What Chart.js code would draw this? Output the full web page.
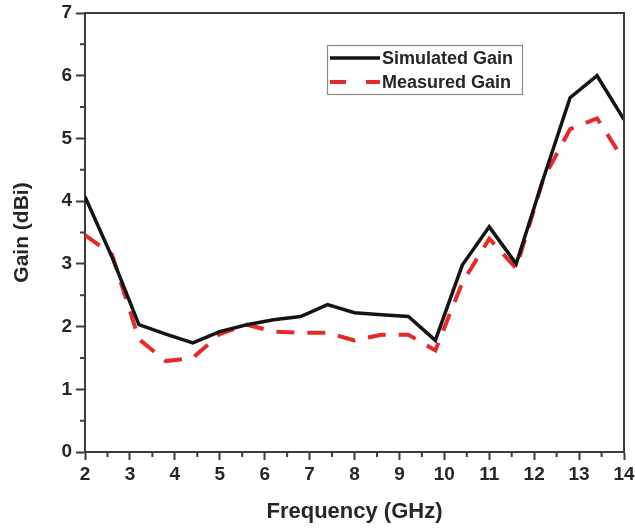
<!DOCTYPE html>
<html>
<head>
<meta charset="utf-8">
<script src="https://cdn.jsdelivr.net/npm/chart.js@4.4.1/dist/chart.umd.min.js"></script>
<style>
  html, body { margin: 0; padding: 0; background: #ffffff; }
  #wrap { width: 635px; height: 531px; }
</style>
</head>
<body>
<div id="wrap"><canvas id="c" width="635" height="531"></canvas></div>
<script>
// ---- data ----
const frequency = [2.0, 2.6, 3.2, 3.8, 4.4, 5.0, 5.6, 6.2, 6.8, 7.4, 8.0, 8.6, 9.2, 9.8, 10.4, 11.0, 11.6, 12.2, 12.8, 13.4, 14.0];
const simulatedGain = [4.07, 3.11, 2.03, 1.88, 1.74, 1.92, 2.03, 2.11, 2.16, 2.35, 2.22, 2.19, 2.16, 1.78, 2.98, 3.59, 3.00, 4.35, 5.65, 6.00, 5.30];
const measuredGain  = [3.46, 3.15, 1.80, 1.45, 1.50, 1.88, 2.03, 1.92, 1.90, 1.90, 1.78, 1.87, 1.87, 1.62, 2.70, 3.40, 2.93, 4.35, 5.15, 5.32, 4.65];
const seriesLabels = ["Simulated Gain", "Measured Gain"];
const xTickValues = [2, 3, 4, 5, 6, 7, 8, 9, 10, 11, 12, 13, 14];
const yTickValues = [0, 1, 2, 3, 4, 5, 6, 7];
const xTitle = "Frequency (GHz)";
const yTitle = "Gain (dBi)";

const AXIS = '#3c3c3c';
const TEXT = '#262626';
const FONT = "'Liberation Sans', Arial, sans-serif";

const toPts = (xs, ys) => xs.map((x, i) => ({ x: x, y: ys[i] }));

const framePlugin = {
  id: 'frame',
  afterDraw(chart) {
    const { ctx, chartArea: { left, right, top, bottom }, scales: { x, y } } = chart;
    ctx.save();
    ctx.strokeStyle = AXIS;
    ctx.lineWidth = 2;
    // top and right frame
    ctx.beginPath();
    ctx.moveTo(left, top); ctx.lineTo(right, top); ctx.lineTo(right, bottom);
    ctx.stroke();
    // minor ticks
    ctx.beginPath();
    for (let v = x.min + 0.5; v < x.max; v += 1) {
      const px = x.getPixelForValue(v);
      ctx.moveTo(px, bottom); ctx.lineTo(px, bottom + 5);
    }
    for (let v = y.min + 0.5; v < y.max; v += 1) {
      const py = y.getPixelForValue(v);
      ctx.moveTo(left, py); ctx.lineTo(left - 5, py);
    }
    ctx.stroke();

    // legend
    const lx = 327, ly = 45, lw = 195, lh = 49;
    ctx.fillStyle = '#ffffff';
    ctx.fillRect(lx, ly, lw, lh);
    ctx.strokeStyle = '#8a8a8a';
    ctx.lineWidth = 1.2;
    ctx.strokeRect(lx + 0.5, ly + 0.5, lw, lh);
    const ds = chart.data.datasets;
    const rows = [ly + 13, ly + 37];
    ds.forEach((d, i) => {
      ctx.save();
      ctx.strokeStyle = d.borderColor;
      ctx.lineWidth = d.borderWidth;
      ctx.setLineDash(i === 0 ? [] : [16, 20]);
      ctx.beginPath();
      ctx.moveTo(lx + 3, rows[i]); ctx.lineTo(lx + 53, rows[i]);
      ctx.stroke();
      ctx.restore();
      ctx.fillStyle = TEXT;
      ctx.font = "bold 18px " + FONT;
      ctx.textBaseline = 'middle';
      ctx.textAlign = 'left';
      ctx.fillText(d.label, lx + 55, rows[i] + 1);
    });
    ctx.restore();
  }
};

new Chart(document.getElementById('c'), {
  type: 'line',
  data: {
    datasets: [
      {
        label: seriesLabels[0],
        data: toPts(frequency, simulatedGain),
        borderColor: '#141414',
        borderWidth: 3.5,
        pointRadius: 0,
        tension: 0,
        fill: false
      },
      {
        label: seriesLabels[1],
        data: toPts(frequency, measuredGain),
        borderColor: '#e52a2a',
        borderWidth: 4,
        borderDash: [18, 13],
        pointRadius: 0,
        tension: 0,
        fill: false
      }
    ]
  },
  options: {
    responsive: false,
    animation: false,
    devicePixelRatio: 1,
    layout: { padding: { top: 11, right: 0, left: 0, bottom: 0 } },
    plugins: { legend: { display: false }, tooltip: { enabled: false } },
    scales: {
      x: {
        type: 'linear',
        min: 2, max: 14,
        afterFit(s) { s.height = 79; s.paddingRight = 11; },
        afterBuildTicks(s) { s.ticks = xTickValues.map(v => ({ value: v })); },
        ticks: {
          color: TEXT,
          font: { family: FONT, size: 19, weight: 'bold' },
          padding: 3,
          maxRotation: 0
        },
        grid: { drawOnChartArea: false, tickLength: 8, tickColor: AXIS, tickWidth: 2 },
        border: { display: true, color: AXIS, width: 2 },
        title: {
          display: true, text: xTitle, color: TEXT,
          font: { family: FONT, size: 22, weight: 'bold' },
          padding: { top: 0, bottom: 6 }
        }
      },
      y: {
        type: 'linear',
        min: 0, max: 7,
        afterFit(s) { s.width = 85; s.paddingTop = 13; },
        afterBuildTicks(s) { s.ticks = yTickValues.map(v => ({ value: v })); },
        ticks: {
          color: TEXT,
          font: { family: FONT, size: 19, weight: 'bold' },
          padding: 4
        },
        grid: { drawOnChartArea: false, tickLength: 9, tickColor: AXIS, tickWidth: 2 },
        border: { display: true, color: AXIS, width: 2 },
        title: {
          display: true, text: yTitle, color: TEXT,
          font: { family: FONT, size: 21, weight: 'bold' },
          padding: { top: 10, bottom: 0 }
        }
      }
    }
  },
  plugins: [framePlugin]
});
</script>
</body>
</html>
